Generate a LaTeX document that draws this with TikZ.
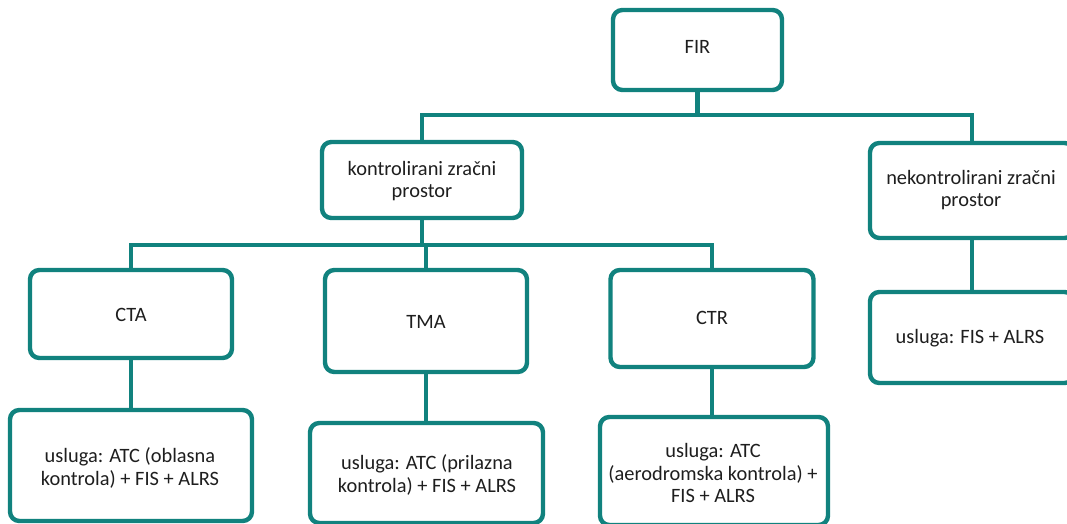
\documentclass[tikz,border=0pt]{standalone}
\usepackage{fontspec}
\setmainfont{Carlito}
\definecolor{tealline}{RGB}{17,130,126}
\definecolor{txt}{RGB}{30,30,30}
\tikzset{
  box/.style={draw=tealline, line width=3.3pt, rounded corners=7pt, fill=white,
    inner sep=0pt},
  conn/.style={draw=tealline, line width=3.3pt},
  lbl/.style={text=txt, align=center, inner sep=0pt,
    font=\fontsize{15.3}{16.8}\selectfont},
  sz/.style n args={2}{minimum width={#1*0.75pt}, minimum height={#2*0.75pt}}
}
\begin{document}
\begin{tikzpicture}[x=0.75pt, y=-0.75pt]
\useasboundingbox (0,0) rectangle (1067,524);
\clip (0,0) rectangle (1067,524);
\coordinate (busA) at (0,115);
\coordinate (busB) at (0,245);
% boxes
\node[box, sz={169}{80}] (fir) at (697.5,50) {};
\node[box, sz={200}{76}] (kz) at (422,180) {};
\node[box, sz={204}{95}] (nek) at (972,190.5) {};
\node[box, sz={202}{88}] (cta) at (131,314) {};
\node[box, sz={202}{102}] (tma) at (426,321) {};
\node[box, sz={203}{97}] (ctr) at (712,318.5) {};
\node[box, sz={242}{111}] (ctas) at (131,465.5) {};
\node[box, sz={233}{100}] (tmas) at (426.5,473) {};
\node[box, sz={228}{108}] (ctrs) at (714,471) {};
\node[box, sz={204}{91}] (neks) at (972,337.5) {};
% connectors
\draw[conn] (fir.south) -- (fir.south |- busA);
\draw[conn] (kz.north) -- (kz.north |- busA) -- (nek.north |- busA) -- (nek.north);
\draw[conn] (kz.south) -- (kz.south |- busB);
\draw[conn] (cta.north) -- (cta.north |- busB) -- (ctr.north |- busB) -- (ctr.north);
\draw[conn] (tma.north) -- (tma.north |- busB);
\draw[conn] (cta.south) -- (cta.south |- ctas.north);
\draw[conn] (tma.south) -- (tma.south |- tmas.north);
\draw[conn] (ctr.south) -- (ctr.south |- ctrs.north);
\draw[conn] (nek.south) -- (nek.south |- neks.north);
% texts
\node[lbl] (tfir) at (697.5,47) {FIR};
\node[lbl] (tkz) at (422,181) {kontrolirani zračni\\prostor};
\node[lbl] (tnek) at (971,190) {nekontrolirani zračni\\prostor};
\node[lbl] (tcta) at (131,315) {CTA};
\node[lbl] (ttma) at (426,322) {TMA};
\node[lbl] (tctr) at (712,318) {CTR};
\node[lbl] (tctas) at (130,468) {usluga: ATC (oblasna\\kontrola) + FIS + ALRS};
\node[lbl] (ttmas) at (427,475) {usluga: ATC (prilazna\\kontrola) + FIS + ALRS};
\node[lbl] (tctrs) at (713,473) {usluga: ATC\\(aerodromska kontrola) +\\FIS + ALRS};
\node[lbl] (tneks) at (970,338) {usluga: FIS + ALRS};
\end{tikzpicture}
\end{document}
